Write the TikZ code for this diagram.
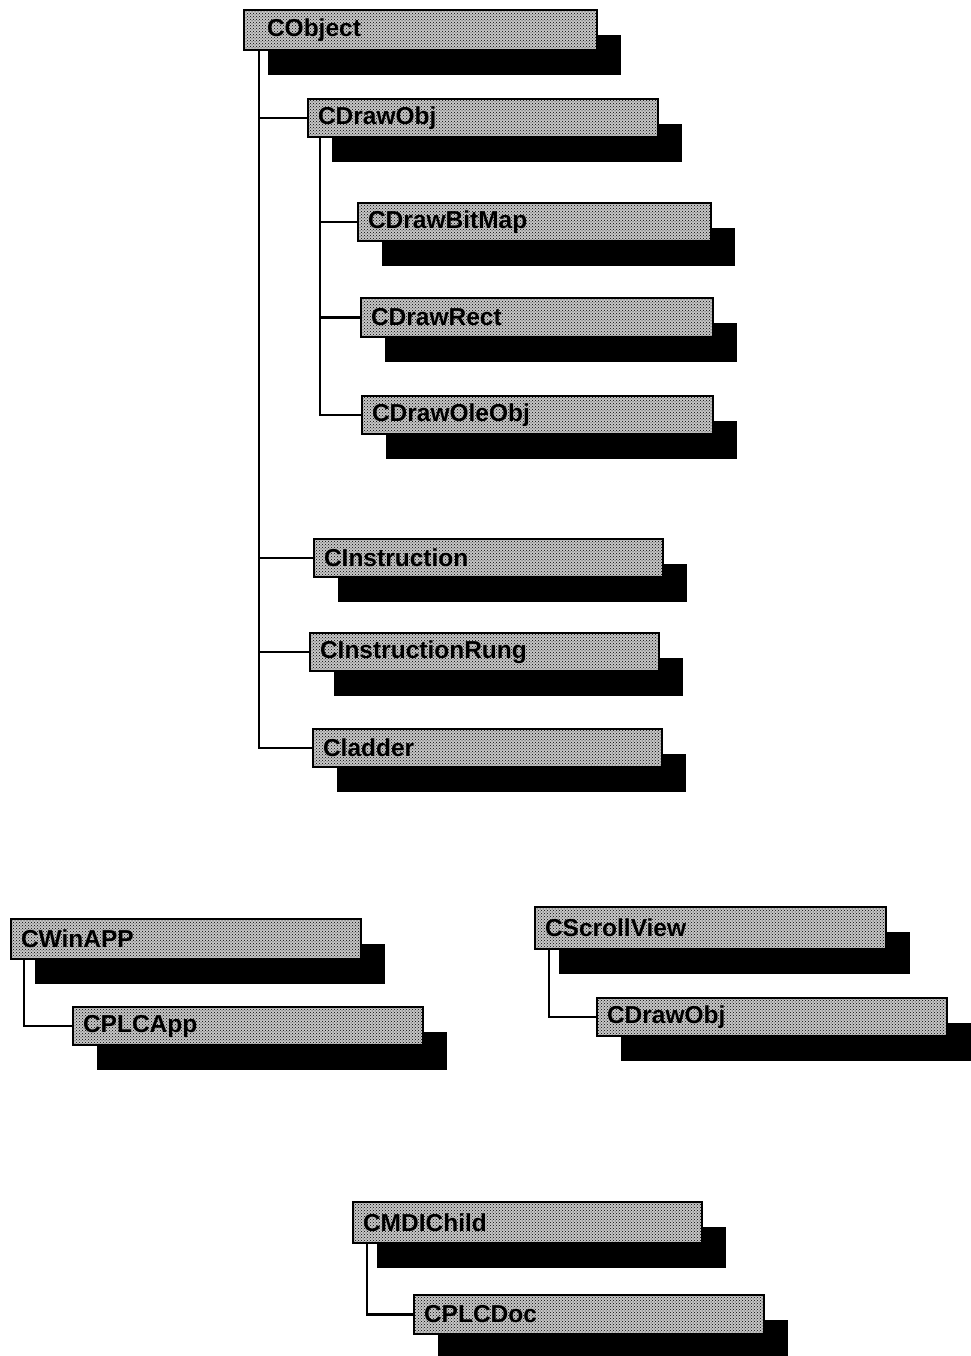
\documentclass[tikz,border=0pt]{standalone}
\usepackage{fontspec}
\setmainfont{Liberation Sans}
\usetikzlibrary{shadows,patterns}
\tikzset{
  cls/.style={draw=black, line width=2.4pt, fill=black!22,
    postaction={pattern=crosshatch dots, pattern color=black},
    anchor=north west, inner xsep=10pt, inner ysep=0pt, outer sep=0pt,
    align=left, font=\bfseries\fontsize{24.5}{24.5}\selectfont,
    drop shadow={shadow xshift=24pt, shadow yshift=-25pt, opacity=1, fill=black}},
  conn/.style={draw=black, line width=2.4pt}
}
\newcommand{\clsbox}[7]{%
  \pgfmathsetmacro{\bw}{#4-#2-20}%
  \pgfmathsetmacro{\bh}{#5-#3}%
  \node[cls, text width=\bw pt, minimum height=\bh pt] (#1) at (#2,#3) {#6#7};}
\begin{document}
\begin{tikzpicture}[x=1pt,y=-1pt]
\useasboundingbox (0,0) rectangle (970,1356);
% top tree
\clsbox{cobject}{244}{10}{597}{50}{\hspace*{13pt}}{CObject}
\clsbox{cdrawobj}{308}{99}{658}{137}{}{CDrawObj}
\clsbox{cbitmap}{358}{203}{711}{241}{}{CDrawBitMap}
\clsbox{crect}{361}{298}{713}{337}{}{CDrawRect}
\clsbox{coleobj}{362}{396}{713}{434}{}{CDrawOleObj}
\clsbox{cinstr}{314}{539}{663}{577}{}{CInstruction}
\clsbox{crung}{310}{633}{659}{671}{}{CInstructionRung}
\clsbox{cladder}{313}{729}{662}{767}{}{Cladder}
% lower left
\clsbox{cwinapp}{11}{919}{361}{959}{}{CWinAPP}
\clsbox{cplcapp}{73}{1007}{423}{1045}{}{CPLCApp}
% lower right
\clsbox{cscroll}{535}{907}{886}{949}{}{CScrollView}
\clsbox{cdrawobjb}{597}{998}{947}{1036}{}{CDrawObj}
% bottom
\clsbox{cmdi}{353}{1202}{702}{1243}{}{CMDIChild}
\clsbox{cplcdoc}{414}{1295}{764}{1334}{}{CPLCDoc}
% connectors
\foreach \c in {cdrawobj,cinstr,crung,cladder}
  \draw[conn] ([xshift=15pt]cobject.south west) |- (\c.west);
\foreach \c in {cbitmap,crect,coleobj}
  \draw[conn] ([xshift=12pt]cdrawobj.south west) |- (\c.west);
\draw[conn] ([xshift=13pt]cwinapp.south west) |- (cplcapp.west);
\draw[conn] ([xshift=14pt]cscroll.south west) |- (cdrawobjb.west);
\draw[conn] ([xshift=14pt]cmdi.south west) |- (cplcdoc.west);
\end{tikzpicture}
\end{document}
